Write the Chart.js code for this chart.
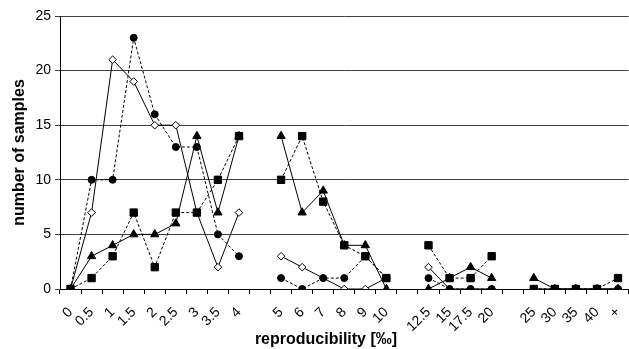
<!DOCTYPE html>
<html>
<head>
<meta charset="utf-8">
<script src="https://cdn.jsdelivr.net/npm/chart.js@4"></script>
<style>
  html, body { margin: 0; padding: 0; background: #fff; }
  #wrap { width: 629px; height: 349px; overflow: hidden; }
</style>
</head>
<body>
<div id="wrap"><canvas id="chart" width="640" height="349"></canvas></div>
<script>
// reproducibility classes (empty label = gap between groups)
const categories = ['0', '0.5', '1', '1.5', '2', '2.5', '3', '3.5', '4', '',
  '5', '6', '7', '8', '9', '10', '',
  '12.5', '15', '17.5', '20', '',
  '25', '30', '35', '40', '+'];

const squareSeries   = [0, 1, 3, 7, 2, 7, 7, 10, 14, null, 10, 14, 8, 4, 3, 1, null, 4, 1, 1, 3, null, 0, 0, 0, 0, 1];
const circleSeries   = [0, 10, 10, 23, 16, 13, 13, 5, 3, null, 1, 0, 1, 1, 3, 1, null, 1, 0, 0, 0, null, 0, 0, 0, 0, 0];
const triangleSeries = [0, 3, 4, 5, 5, 6, 14, 7, 14, null, 14, 7, 9, 4, 4, 0, null, 0, 1, 2, 1, null, 1, 0, 0, 0, 0];
const diamondSeries  = [0, 7, 21, 19, 15, 15, 7, 2, 7, null, 3, 2, 1, 0, 0, 1, null, 2, 0, 0, 0, null, 0, 0, 0, 0, 0];

const yMin = 0, yMax = 25, yStep = 5;
const xTitle = 'reproducibility [‰]';
const yTitle = 'number of samples';

const FONT = '"Liberation Sans", Arial, sans-serif';

function series(data, style, radius, dashed, fill) {
    return {
        data,
        borderColor: '#000',
        borderWidth: 1,
        borderDash: dashed ? [3, 2] : [],
        pointStyle: style,
        pointRadius: radius,
        pointBackgroundColor: fill,
        pointBorderColor: '#000',
        pointBorderWidth: 1,
        fill: false,
        tension: 0,
        spanGaps: false,
    };
}

// x axis title sits left of the plot centre in the original
const xTitlePlugin = {
    id: 'xTitle',
    afterDraw(chart) {
        const ctx = chart.ctx;
        ctx.save();
        ctx.font = 'bold 16px ' + FONT;
        ctx.fillStyle = '#000';
        ctx.textAlign = 'center';
        ctx.textBaseline = 'middle';
        ctx.fillText(xTitle, 326, 340);
        ctx.restore();
    }
};

new Chart(document.getElementById('chart'), {
    type: 'line',
    data: {
        labels: categories,
        datasets: [
            series(squareSeries, 'rect', 5.2, true, '#000'),
            series(circleSeries, 'circle', 3.5, true, '#000'),
            series(triangleSeries, 'triangle', 4.8, false, '#000'),
            series(diamondSeries, 'rectRot', 3.8, false, '#fff'),
        ],
    },
    options: {
        responsive: false,
        animation: false,
        layout: { padding: { top: 16, right: 3, left: 0, bottom: 0 } },
        plugins: {
            legend: { display: false },
            tooltip: { enabled: false },
        },
        scales: {
            x: {
                offset: true,
                grid: {
                    offset: true,
                    drawOnChartArea: false,
                    drawTicks: true,
                    tickLength: 5,
                    color: '#000',
                },
                border: { color: '#000', width: 1 },
                ticks: {
                    autoSkip: false,
                    minRotation: 45,
                    maxRotation: 45,
                    padding: 10,
                    color: '#000',
                    font: { family: FONT, size: 14 },
                },
                afterFit: s => { s.height = 60; },
            },
            y: {
                min: yMin,
                max: yMax,
                ticks: {
                    stepSize: yStep,
                    padding: 4,
                    color: '#000',
                    font: { family: FONT, size: 14 },
                },
                grid: {
                    color: '#404040',
                    lineWidth: 1,
                    drawTicks: true,
                    tickLength: 5,
                },
                border: { color: '#000', width: 1 },
                title: {
                    display: true,
                    text: yTitle,
                    color: '#000',
                    font: { family: FONT, size: 16, weight: 'bold' },
                    padding: { top: 10, bottom: 0 },
                },
                afterFit: s => { s.width = 60; },
            },
        },
    },
    plugins: [xTitlePlugin],
});
</script>
</body>
</html>
